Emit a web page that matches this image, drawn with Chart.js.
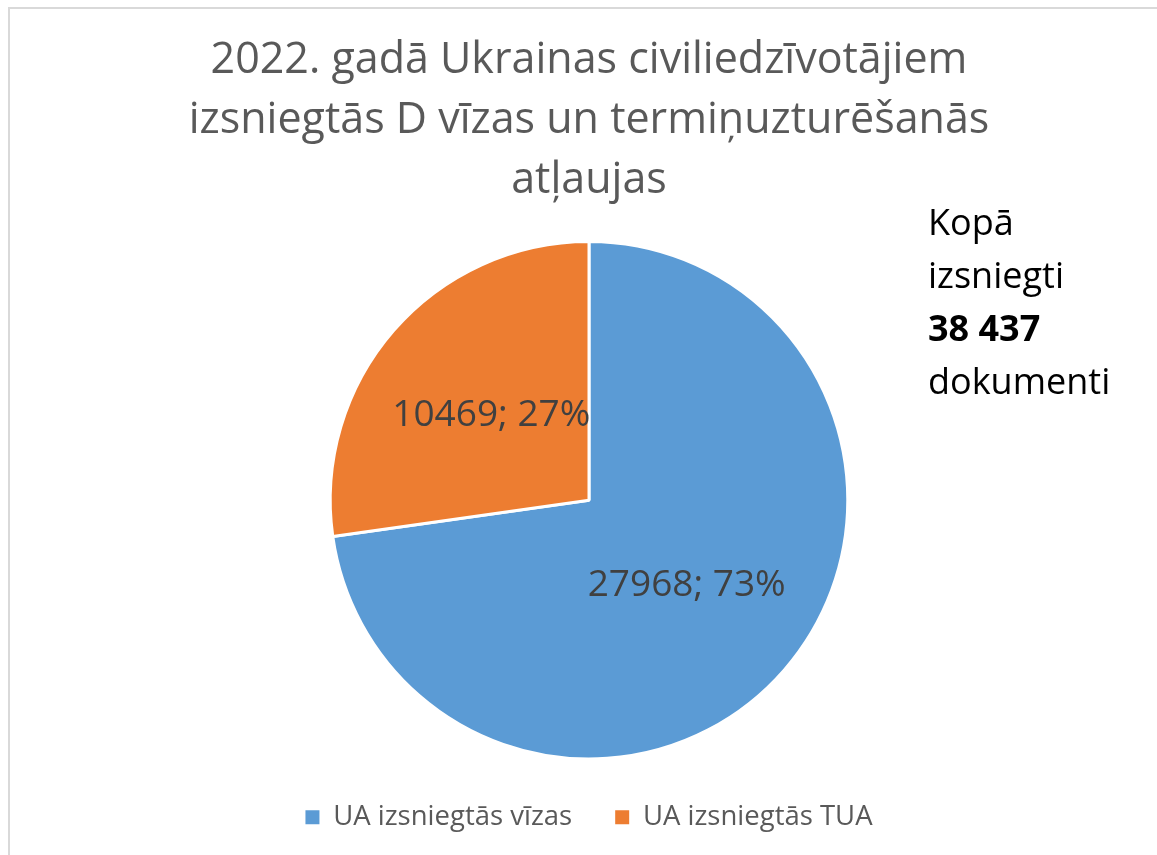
<!DOCTYPE html>
<html lang="lv">
<head>
<meta charset="utf-8">
<title>2022. gadā Ukrainas civiliedzīvotājiem izsniegtās D vīzas un termiņuzturēšanās atļaujas</title>
<script src="https://cdn.jsdelivr.net/npm/chart.js@4.4.1/dist/chart.umd.min.js"></script>
<style>
  html, body { margin: 0; padding: 0; background: #fff; overflow: hidden; width: 1157px; height: 855px; }
  #frame { position: absolute; left: 8px; top: 7px; width: 1200px; height: 900px; border: 2px solid #d9d9d9; box-sizing: border-box; z-index: 0; }
  #wrap { position: absolute; left: 0; top: 0; width: 1157px; height: 855px; z-index: 1; }
  #note { position: absolute; left: 928px; top: 195px; z-index: 2; font-family: "Open Sans", sans-serif; font-size: 36px; line-height: 53px; color: #000; }
  #note b { font-weight: bold; }
</style>
</head>
<body>
<div id="frame"></div>
<div id="wrap"><canvas id="c" width="1157" height="855"></canvas></div>
<div id="note">Kopā<br>izsniegti<br><b>38 437</b><br>dokumenti</div>
<script>
const titleLines = ["2022. gadā Ukrainas civiliedzīvotājiem", "izsniegtās D vīzas un termiņuzturēšanās", "atļaujas"];
const categories = ["UA izsniegtās vīzas", "UA izsniegtās TUA"];
const values = [27968, 10469];
const colors = ["#5B9BD5", "#ED7D31"];

const sliceLabels = {
  id: "sliceLabels",
  afterDatasetsDraw(chart) {
    const ctx = chart.ctx;
    const meta = chart.getDatasetMeta(0);
    const data = chart.data.datasets[0].data;
    const total = data.reduce((a, b) => a + b, 0);
    ctx.save();
    ctx.font = "37px 'Open Sans', sans-serif";
    ctx.fillStyle = "#404040";
    ctx.textAlign = "center";
    ctx.textBaseline = "middle";
    meta.data.forEach((arc, i) => {
      const p = arc.tooltipPosition();
      const pct = Math.round(data[i] / total * 100);
      ctx.fillText(data[i] + "; " + pct + "%", p.x, p.y);
    });
    ctx.restore();
  }
};

new Chart(document.getElementById("c"), {
  type: "pie",
  data: {
    labels: categories,
    datasets: [{
      data: values,
      backgroundColor: colors,
      borderColor: "#ffffff",
      borderWidth: 3
    }]
  },
  options: {
    responsive: false,
    animation: false,
    layout: { padding: { left: 21, right: 0, top: 0, bottom: 14 } },
    plugins: {
      title: {
        display: true,
        text: titleLines,
        color: "#595959",
        font: { family: "'Open Sans', sans-serif", size: 43, weight: "normal", lineHeight: 1.395 },
        padding: { top: 31, bottom: 29 }
      },
      legend: {
        position: "bottom",
        labels: {
          boxWidth: 14,
          boxHeight: 14,
          padding: 43,
          color: "#595959",
          font: { family: "'Open Sans', sans-serif", size: 27.5 },
          generateLabels: (chart) =>
            Chart.overrides.pie.plugins.legend.labels.generateLabels(chart)
              .map(l => Object.assign({}, l, { lineWidth: 0, strokeStyle: "rgba(0,0,0,0)" }))
        }
      },
      tooltip: { enabled: false }
    }
  },
  plugins: [sliceLabels]
});
</script>
</body>
</html>
